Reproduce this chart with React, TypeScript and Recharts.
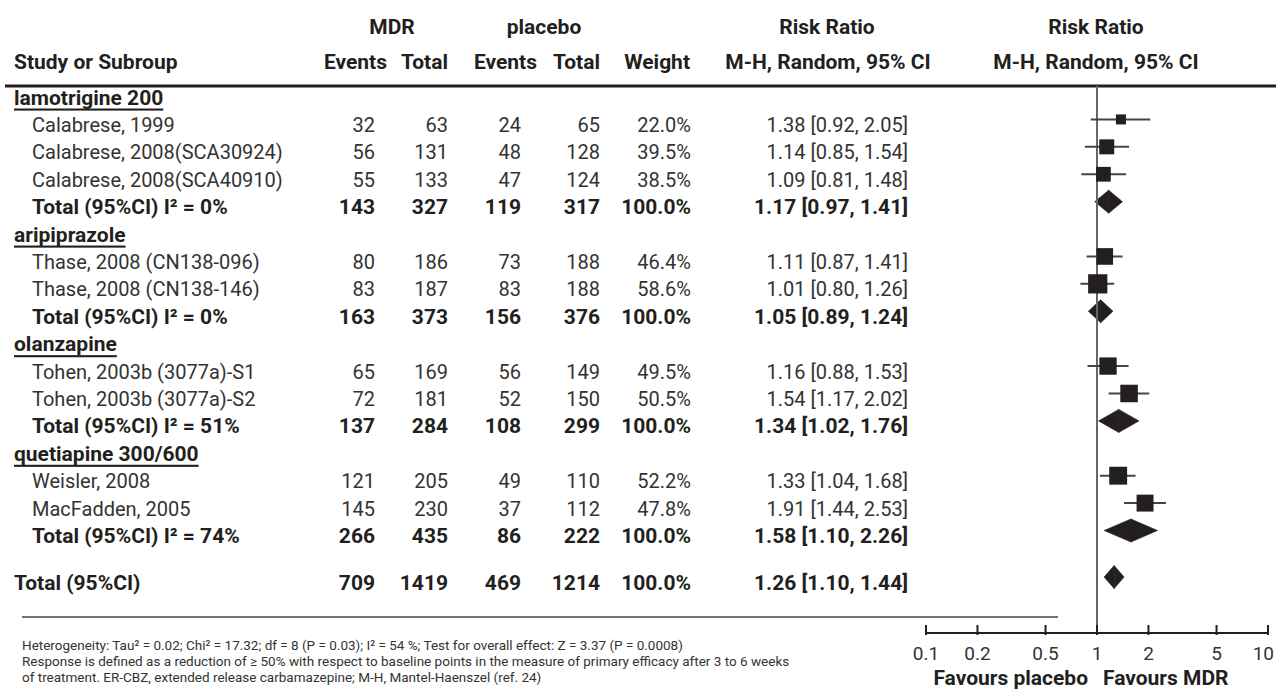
import React from "react";
import { ScatterChart, Scatter, XAxis, YAxis, ReferenceLine, ReferenceArea, ErrorBar, Customized } from "recharts";

const W = 1276;
const H = 692;
const FONT = "Roboto, sans-serif";
const INK = "#231f20";
const TEXT = "#333333";
const LINE = "#444444";

// subgroups
const groupNames = ["lamotrigine 200", "aripiprazole", "olanzapine", "quetiapine 300/600"];
const groupI2 = [0, 0, 51, 74];
const groupMdrEvents = [143, 163, 137, 266];
const groupMdrTotal = [327, 373, 284, 435];
const groupPboEvents = [119, 156, 108, 86];
const groupPboTotal = [317, 376, 299, 222];
const groupRR = [1.17, 1.05, 1.34, 1.58];
const groupLow = [0.97, 0.89, 1.02, 1.1];
const groupHigh = [1.41, 1.24, 1.76, 2.26];

// studies
const studyNames = [
  "Calabrese, 1999",
  "Calabrese, 2008(SCA30924)",
  "Calabrese, 2008(SCA40910)",
  "Thase, 2008 (CN138-096)",
  "Thase, 2008 (CN138-146)",
  "Tohen, 2003b (3077a)-S1",
  "Tohen, 2003b (3077a)-S2",
  "Weisler, 2008",
  "MacFadden, 2005",
];
const studyGroup = [0, 0, 0, 1, 1, 2, 2, 3, 3];
const mdrEvents = [32, 56, 55, 80, 83, 65, 72, 121, 145];
const mdrTotal = [63, 131, 133, 186, 187, 169, 181, 205, 230];
const pboEvents = [24, 48, 47, 73, 83, 56, 52, 49, 37];
const pboTotal = [65, 128, 124, 188, 188, 149, 150, 110, 112];
const weights = [22.0, 39.5, 38.5, 46.4, 58.6, 49.5, 50.5, 52.2, 47.8];
const riskRatio = [1.38, 1.14, 1.09, 1.11, 1.01, 1.16, 1.54, 1.33, 1.91];
const ciLow = [0.92, 0.85, 0.81, 0.87, 0.8, 0.88, 1.17, 1.04, 1.44];
const ciHigh = [2.05, 1.54, 1.48, 1.41, 1.26, 1.53, 2.02, 1.68, 2.53];

// overall
const totalCounts = [709, 1419, 469, 1214];
const totalEffect = [1.26, 1.1, 1.44];

const xTicks = [0.1, 0.2, 0.5, 1, 2, 5, 10];

// layout
const COL_RIGHT = [375, 448, 521, 600, 691, 908];
const ROW_DOMAIN = [-0.42, 19.54];
const MARK_SHIFT = 0.2;
const FS = 20;
const FS_B = 21;

type Row = { x: number; y: number; kind: string; label: string; cells: string[] };

const pct = (v: number) => `${v.toFixed(1)}%`;
const ci = (m: number, lo: number, hi: number) => `${m.toFixed(2)} [${lo.toFixed(2)}, ${hi.toFixed(2)}]`;

const tableRows: Row[] = [];
const studyPoints: any[] = [];
const diamonds: any[] = [];
let r = 0;
groupNames.forEach((g, gi) => {
  tableRows.push({ x: 1, y: r++, kind: "group", label: g, cells: [] });
  studyNames.forEach((s, i) => {
    if (studyGroup[i] !== gi) return;
    tableRows.push({
      x: 1,
      y: r,
      kind: "study",
      label: s,
      cells: [mdrEvents[i], mdrTotal[i], pboEvents[i], pboTotal[i]].map(String).concat(pct(weights[i]), ci(riskRatio[i], ciLow[i], ciHigh[i])),
    });
    studyPoints.push({ x: riskRatio[i], y: r, w: weights[i], err: [riskRatio[i] - ciLow[i], ciHigh[i] - riskRatio[i]] });
    r++;
  });
  tableRows.push({
    x: 1,
    y: r,
    kind: "sub",
    label: `Total (95%CI) I² = ${groupI2[gi]}%`,
    cells: [groupMdrEvents[gi], groupMdrTotal[gi], groupPboEvents[gi], groupPboTotal[gi]].map(String).concat(pct(100), ci(groupRR[gi], groupLow[gi], groupHigh[gi])),
  });
  diamonds.push({ y: r, m: groupRR[gi], lo: groupLow[gi], hi: groupHigh[gi] });
  r++;
});
const overallY = r + 0.7;
tableRows.push({
  x: 1,
  y: overallY,
  kind: "overall",
  label: "Total (95%CI)",
  cells: totalCounts.map(String).concat(pct(100), ci(totalEffect[0], totalEffect[1], totalEffect[2])),
});
diamonds.push({ y: overallY, m: totalEffect[0], lo: totalEffect[1], hi: totalEffect[2] });

const rowShape = (p: any) => {
  const row: Row = p.payload;
  const bold = row.kind !== "study";
  const indent = row.kind === "group" || row.kind === "overall" ? 14 : 32;
  const fill = bold ? INK : TEXT;
  const fs = bold ? FS_B : FS;
  return (
    <g>
      <text
        x={indent}
        y={p.cy}
        dominantBaseline="central"
        fontSize={fs}
        fontWeight={bold ? "bold" : "normal"}
        fill={fill}
        textDecoration={row.kind === "group" ? "underline" : undefined}
      >
        {row.label}
      </text>
      {row.cells.map((c, i) => (
        <text key={i} x={COL_RIGHT[i]} y={p.cy} textAnchor="end" dominantBaseline="central" fontSize={fs} fontWeight={bold ? "bold" : "normal"} fill={fill}>
          {c}
        </text>
      ))}
    </g>
  );
};

const squareShape = (p: any) => {
  const s = 3.1 * Math.sqrt(p.payload.w) - 4.5;
  return <rect x={p.cx - s / 2} y={p.cy - s / 2} width={s} height={s} fill={INK} />;
};

const leftHalf = (p: any) => (
  <polygon points={`${p.x},${p.y + p.height / 2} ${p.x + p.width},${p.y} ${p.x + p.width},${p.y + p.height}`} fill={INK} stroke={INK} strokeWidth={0.6} />
);
const rightHalf = (p: any) => (
  <polygon points={`${p.x},${p.y} ${p.x + p.width},${p.y + p.height / 2} ${p.x},${p.y + p.height}`} fill={INK} stroke={INK} strokeWidth={0.6} />
);

function AxisTick(props: any) {
  const { x, y, payload } = props;
  const last = payload.value === xTicks[xTicks.length - 1];
  return (
    <g>
      <line x1={x} x2={x} y1={y - 8} y2={y + 2} stroke={INK} strokeWidth={2} />
      <text x={last ? W - 2 : x} y={y + 20} textAnchor={last ? "end" : "middle"} dominantBaseline="central" fontSize={19} fill={TEXT}>
        {String(payload.value)}
      </text>
    </g>
  );
}

function StaticLayer() {
  const hb = { fontSize: FS_B, fontWeight: "bold" as const, fill: INK, dominantBaseline: "central" as const };
  const foot = { fontSize: 13.5, fill: TEXT, dominantBaseline: "central" as const };
  return (
    <g>
      <text x={392} y={27} textAnchor="middle" {...hb}>MDR</text>
      <text x={544} y={27} textAnchor="middle" {...hb}>placebo</text>
      <text x={827} y={27} textAnchor="middle" {...hb}>Risk Ratio</text>
      <text x={1096} y={27} textAnchor="middle" {...hb}>Risk Ratio</text>
      <text x={14} y={62} {...hb}>Study or Subroup</text>
      <text x={387} y={62} textAnchor="end" {...hb}>Events</text>
      <text x={448} y={62} textAnchor="end" {...hb}>Total</text>
      <text x={537} y={62} textAnchor="end" {...hb}>Events</text>
      <text x={600} y={62} textAnchor="end" {...hb}>Total</text>
      <text x={690} y={62} textAnchor="end" {...hb}>Weight</text>
      <text x={828} y={62} textAnchor="middle" {...hb}>M-H, Random, 95% CI</text>
      <text x={1096} y={62} textAnchor="middle" {...hb}>M-H, Random, 95% CI</text>
      <line x1={5} x2={W} y1={86} y2={86} stroke={INK} strokeWidth={3} />
      <line x1={22} x2={1058} y1={617} y2={617} stroke="#444" strokeWidth={1.5} />
      <text x={1088} y={678} textAnchor="end" {...hb}>Favours placebo</text>
      <text x={1103} y={678} {...hb}>Favours MDR</text>
      <text x={22} y={645} {...foot}>
        Heterogeneity: Tau² = 0.02; Chi² = 17.32; df = 8 (P = 0.03); I² = 54 %; Test for overall effect: Z = 3.37 (P = 0.0008)
      </text>
      <text x={22} y={661} {...foot}>
        Response is defined as a reduction of ≥ 50% with respect to baseline points in the measure of primary efficacy after 3 to 6 weeks
      </text>
      <text x={22} y={677} {...foot}>
        of treatment. ER-CBZ, extended release carbamazepine; M-H, Mantel-Haenszel (ref. 24)
      </text>
    </g>
  );
}

export default function App() {
  return (
    <div style={{ width: W, height: H, background: "#fff" }}>
      <style>{"body{margin:0;background:#fff}"}</style>
      <ScatterChart width={W} height={H} margin={{ top: 86, right: 8, bottom: 0, left: 926 }} style={{ fontFamily: FONT }}>
        <Customized component={StaticLayer} />
        <XAxis
          type="number"
          dataKey="x"
          scale="log"
          domain={[0.1, 10]}
          ticks={xTicks}
          interval={0}
          height={59}
          tickSize={0}
          tickMargin={0}
          tickLine={false}
          axisLine={{ stroke: INK, strokeWidth: 2 }}
          tick={<AxisTick />}
        />
        <YAxis yAxisId="t" type="number" dataKey="y" domain={ROW_DOMAIN} reversed hide />
        <YAxis yAxisId="m" type="number" dataKey="y" domain={[ROW_DOMAIN[0] + MARK_SHIFT, ROW_DOMAIN[1] + MARK_SHIFT]} reversed hide />
        <ReferenceLine x={1} yAxisId="t" stroke="#666" strokeWidth={2} />
        <Scatter data={tableRows} yAxisId="t" shape={rowShape} isAnimationActive={false} />
        {diamonds.map((d, i) => (
          <ReferenceArea key={`l${i}`} yAxisId="m" x1={d.lo} x2={d.m} y1={d.y - 0.42} y2={d.y + 0.42} shape={leftHalf} />
        ))}
        {diamonds.map((d, i) => (
          <ReferenceArea key={`r${i}`} yAxisId="m" x1={d.m} x2={d.hi} y1={d.y - 0.42} y2={d.y + 0.42} shape={rightHalf} />
        ))}
        <Scatter data={studyPoints} yAxisId="m" shape={squareShape} isAnimationActive={false}>
          <ErrorBar dataKey="err" direction="x" width={0} stroke={LINE} strokeWidth={2} />
        </Scatter>
      </ScatterChart>
    </div>
  );
}
